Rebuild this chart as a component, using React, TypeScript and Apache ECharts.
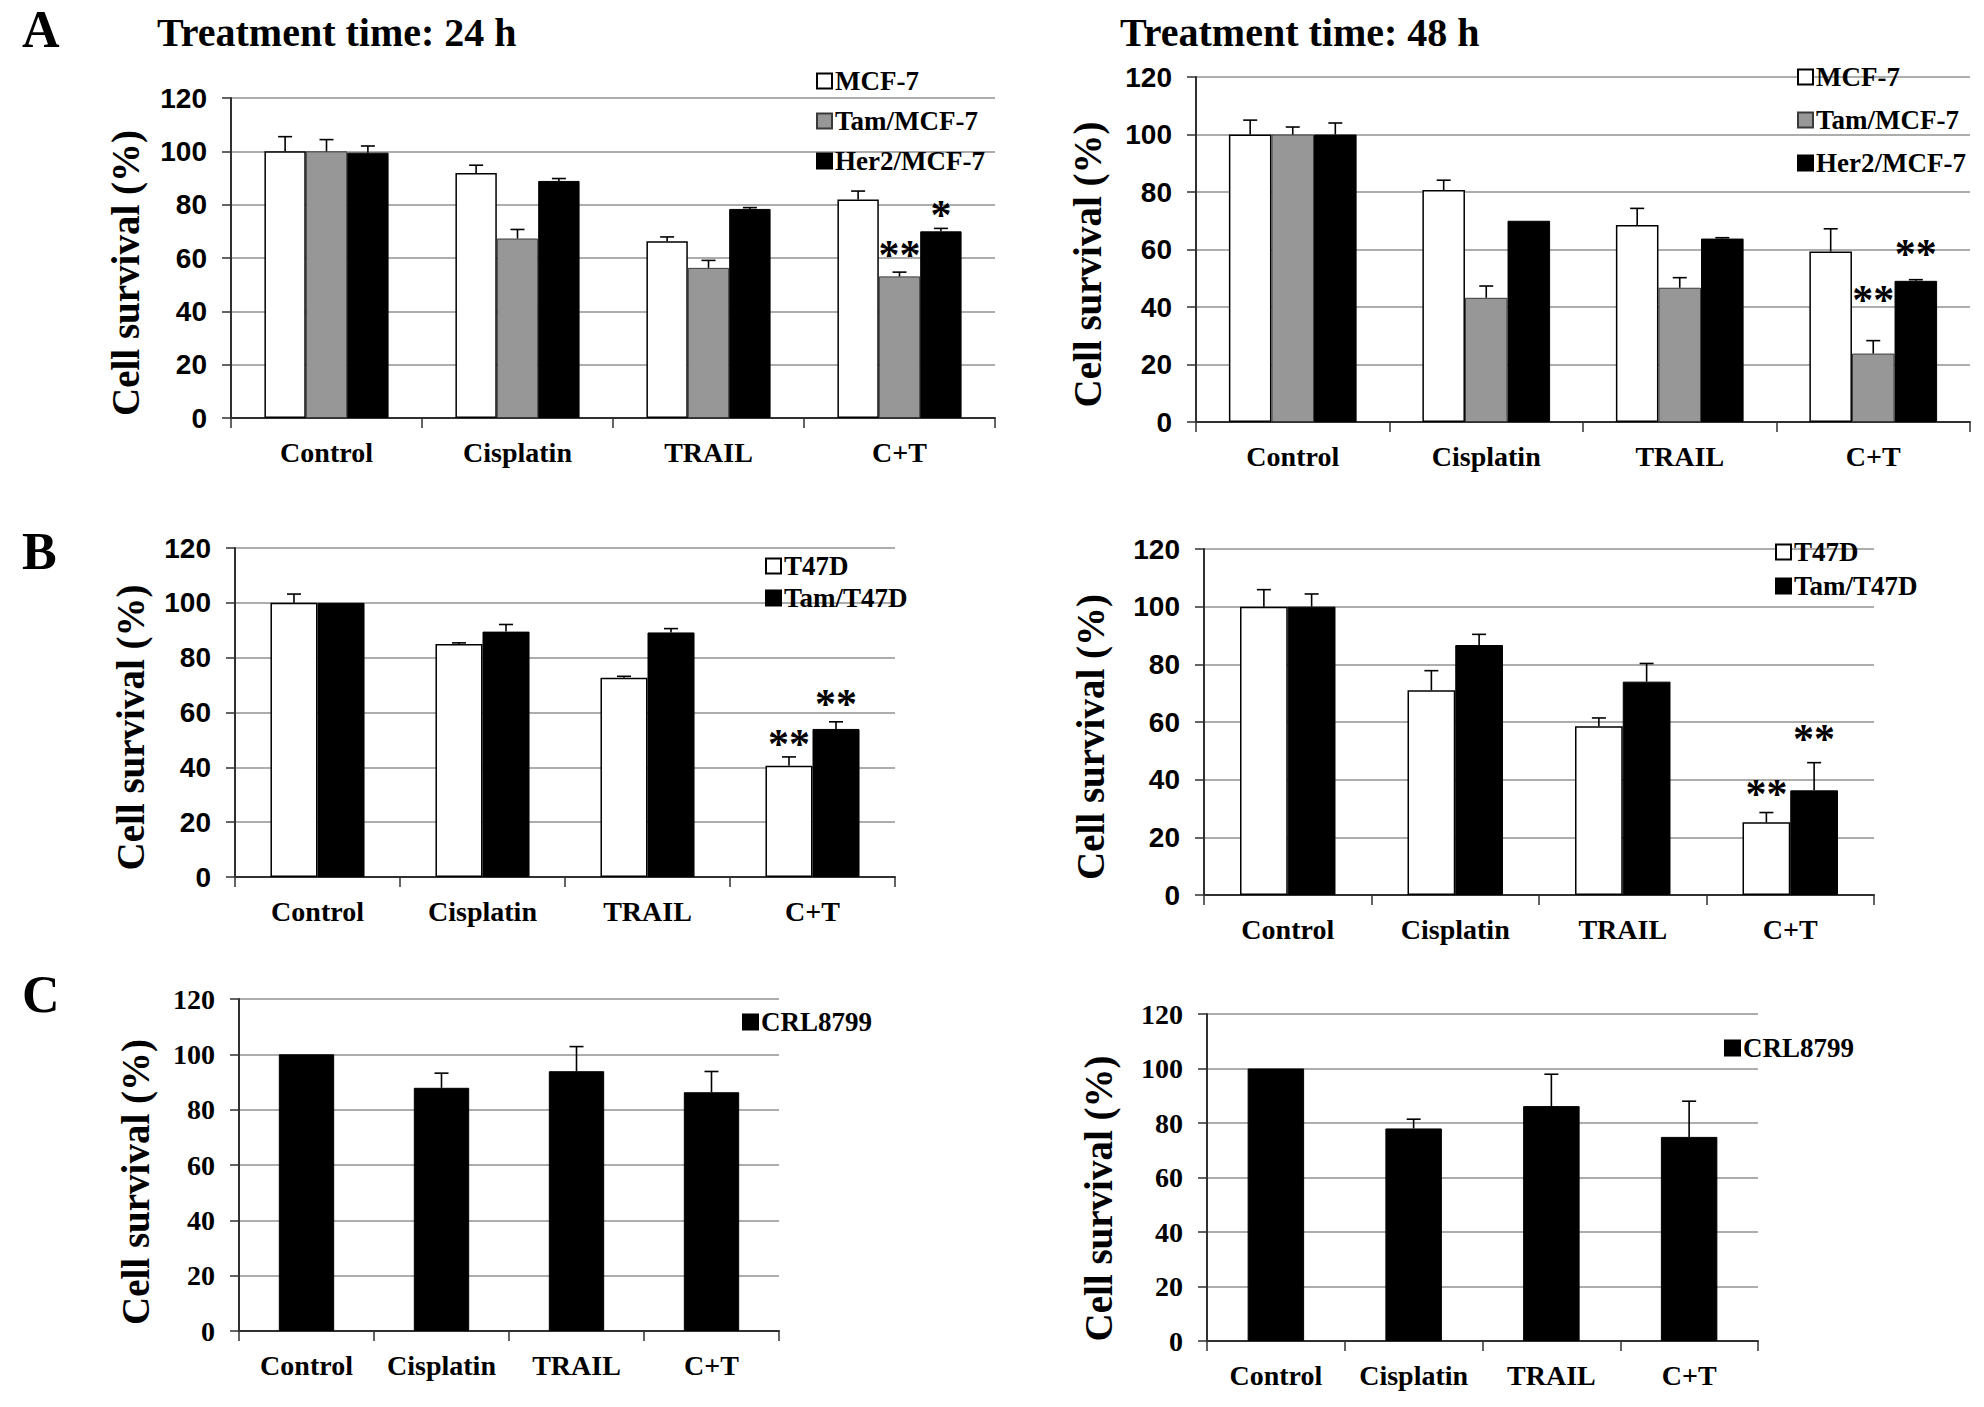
import React, { useEffect, useRef } from "react";
import * as echarts from "echarts";

const categories = ["Control", "Cisplatin", "TRAIL", "C+T"];

// ---- Panel A, 24 h
const a24Names = ["MCF-7", "Tam/MCF-7", "Her2/MCF-7"];
const a24Mcf7 = [100, 91.9, 66.3, 81.9];
const a24Mcf7Err = [5.5, 2.9, 1.6, 3.2];
const a24Tam = [100, 67.3, 56.3, 53.1];
const a24TamErr = [4.4, 3.4, 2.8, 1.6];
const a24Her2 = [99.5, 88.9, 78.4, 70];
const a24Her2Err = [2.5, 0.9, 0.5, 1.1];
const a24Marks = [
  { series: 1, cat: 3, text: "**", level: 63.8 },
  { series: 2, cat: 3, text: "*", level: 78.6 },
];

// ---- Panel A, 48 h
const a48Names = ["MCF-7", "Tam/MCF-7", "Her2/MCF-7"];
const a48Mcf7 = [100, 80.7, 68.5, 59.3];
const a48Mcf7Err = [5, 3.4, 5.8, 7.9];
const a48Tam = [100, 43.2, 46.7, 23.8];
const a48TamErr = [2.6, 4.1, 3.5, 4.5];
const a48Her2 = [100, 70, 63.8, 49.1];
const a48Her2Err = [4, 0, 0.3, 0.4];
const a48Marks = [
  { series: 1, cat: 3, text: "**", level: 44.7 },
  { series: 2, cat: 3, text: "**", level: 61 },
];

// ---- Panel B, 24 h
const b24Names = ["T47D", "Tam/T47D"];
const b24T47d = [100, 85, 72.7, 40.6];
const b24T47dErr = [3.2, 0.4, 0.5, 3.2];
const b24Tam = [100, 89.5, 89.2, 54];
const b24TamErr = [0, 2.6, 1.4, 2.6];
const b24Marks = [
  { series: 0, cat: 3, text: "**", level: 51.2 },
  { series: 1, cat: 3, text: "**", level: 65.5 },
];

// ---- Panel B, 48 h
const b48Names = ["T47D", "Tam/T47D"];
const b48T47d = [100, 71, 58.5, 25.2];
const b48T47dErr = [5.9, 6.8, 2.9, 3.4];
const b48Tam = [100, 86.7, 74, 36.3];
const b48TamErr = [4.4, 3.7, 6.3, 9.6];
const b48Marks = [
  { series: 0, cat: 3, text: "**", level: 37.6 },
  { series: 1, cat: 3, text: "**", level: 56.7 },
];

// ---- Panel C, 24 h / 48 h
const cNames = ["CRL8799"];
const c24Crl = [100, 87.9, 93.9, 86.3];
const c24CrlErr = [0, 5.3, 8.9, 7.5];
const c48Crl = [100, 78, 86.2, 74.9];
const c48CrlErr = [0, 3.4, 11.7, 13.1];

const yTicks = { min: 0, max: 120, interval: 20 };
const yName = "Cell survival (%)";

const panelTitles = ["Treatment time: 24 h", "Treatment time: 48 h"];
const panelLetters = ["A", "B", "C"];

const SERIF = '"Liberation Serif", "Times New Roman", serif';
const SANS = '"Liberation Sans", Arial, sans-serif';

// layout (not data)
const panels = [
  {
    grid: { left: 231, top: 98, width: 764, height: 320 },
    catGap: 35, nameGap: 86, nameShift: 30, tickFont: SANS,
    names: a24Names, values: [a24Mcf7, a24Tam, a24Her2], errs: [a24Mcf7Err, a24TamErr, a24Her2Err], marks: a24Marks,
    legend: { left: 816, top: 67, gap: 12 },
  },
  {
    grid: { left: 1196, top: 77, width: 774, height: 345 },
    catGap: 34, nameGap: 89, nameShift: 30, tickFont: SANS,
    names: a48Names, values: [a48Mcf7, a48Tam, a48Her2], errs: [a48Mcf7Err, a48TamErr, a48Her2Err], marks: a48Marks,
    legend: { left: 1797, top: 63, gap: 15 },
  },
  {
    grid: { left: 235, top: 548, width: 660, height: 329 },
    catGap: 43, nameGap: 85, nameShift: 30, tickFont: SANS,
    names: b24Names, values: [b24T47d, b24Tam], errs: [b24T47dErr, b24TamErr], marks: b24Marks,
    legend: { left: 765, top: 552, gap: 4 },
  },
  {
    grid: { left: 1204, top: 549, width: 670, height: 346 },
    catGap: 43, nameGap: 94, nameShift: 30, tickFont: SANS,
    names: b48Names, values: [b48T47d, b48Tam], errs: [b48T47dErr, b48TamErr], marks: b48Marks,
    legend: { left: 1775, top: 538, gap: 6 },
  },
  {
    grid: { left: 239, top: 999, width: 540, height: 332 },
    catGap: 59, nameGap: 84, nameShift: 34, tickFont: SERIF,
    names: cNames, values: [c24Crl], errs: [c24CrlErr], marks: [],
    legend: { left: 742, top: 1008, gap: 5 },
  },
  {
    grid: { left: 1207, top: 1014, width: 551, height: 327 },
    catGap: 59, nameGap: 89, nameShift: 42, tickFont: SERIF,
    names: cNames, values: [c48Crl], errs: [c48CrlErr], marks: [],
    legend: { left: 1724, top: 1034, gap: 5 },
  },
];

const barStyles: Record<string, any> = {
  "MCF-7": { color: "#ffffff", borderColor: "#000000", borderWidth: 1.5 },
  T47D: { color: "#ffffff", borderColor: "#000000", borderWidth: 1.5 },
  "Tam/MCF-7": { color: "#979797", borderColor: "#3a3a3a", borderWidth: 1 },
  "Her2/MCF-7": { color: "#000000", borderColor: "#000000", borderWidth: 1 },
  "Tam/T47D": { color: "#000000", borderColor: "#000000", borderWidth: 1 },
  CRL8799: { color: "#000000", borderColor: "#000000", borderWidth: 1 },
};

function buildOption() {
  const grid: any[] = [];
  const xAxis: any[] = [];
  const yAxis: any[] = [];
  const series: any[] = [];
  const legend: any[] = [];
  const axisColor = "#303030";

  panels.forEach((p, pi) => {
    grid.push({ ...p.grid, containLabel: false });
    xAxis.push({
      type: "category",
      gridIndex: pi,
      data: categories,
      axisLine: { show: true, lineStyle: { color: axisColor, width: 2 } },
      axisTick: { show: true, length: 10, lineStyle: { color: axisColor, width: 1.5 } },
      axisLabel: { interval: 0, margin: 20, color: "#000", fontFamily: SERIF, fontWeight: "bold", fontSize: 28 },
      splitLine: { show: false },
    });
    yAxis.push({
      type: "value",
      gridIndex: pi,
      min: yTicks.min,
      max: yTicks.max,
      interval: yTicks.interval,
      name: yName,
      nameLocation: "middle",
      nameGap: p.nameGap,
      nameTextStyle: {
        color: "#000",
        fontFamily: SERIF,
        fontWeight: "bold",
        fontSize: 39,
        padding: [0, p.nameShift, 0, 0],
      },
      axisLine: { show: true, lineStyle: { color: axisColor, width: 2 } },
      axisTick: { show: true, length: 9, lineStyle: { color: axisColor, width: 1.5 } },
      axisLabel: { margin: 24, color: "#000", fontFamily: p.tickFont, fontWeight: "bold", fontSize: 28 },
      splitLine: { show: true, lineStyle: { color: "#adadad", width: 2 } },
    });

    const n = p.names.length;
    p.names.forEach((name, si) => {
      series.push({
        type: "bar",
        name,
        xAxisIndex: pi,
        yAxisIndex: pi,
        data: p.values[si],
        barGap: "0%",
        barCategoryGap: p.catGap + "%",
        itemStyle: barStyles[name],
        emphasis: { disabled: true },
        z: 2,
      });
      const marks = p.marks.filter((m) => m.series === si);
      const catGap = p.catGap;
      series.push({
        type: "custom",
        xAxisIndex: pi,
        yAxisIndex: pi,
        silent: true,
        z: 5,
        data: p.values[si].map((v, ci) => [ci, v, p.errs[si][ci]]),
        renderItem: (params: any, api: any) => {
          const ci = api.value(0);
          const v = api.value(1);
          const e = api.value(2);
          const band = api.size([1, 0])[0];
          const bw = (band * (1 - catGap / 100)) / n;
          const base = api.coord([ci, v]);
          const cx = base[0] + (si - (n - 1) / 2) * bw;
          const yTop = base[1];
          const children: any[] = [];
          if (e > 0) {
            const yErr = api.coord([ci, v + e])[1];
            const st = { stroke: "#000", lineWidth: 1.6 };
            children.push({ type: "line", shape: { x1: cx, y1: yTop, x2: cx, y2: yErr }, style: st });
            children.push({ type: "line", shape: { x1: cx - 7, y1: yErr, x2: cx + 7, y2: yErr }, style: st });
          }
          marks
            .filter((m) => m.cat === ci)
            .forEach((m) => {
              const yy = api.coord([ci, m.level])[1];
              children.push({
                type: "text",
                x: cx,
                y: yy + 7,
                style: {
                  text: m.text,
                  fill: "#000",
                  font: `bold 42px ${SERIF}`,
                  align: "center",
                  verticalAlign: "middle",
                },
              });
            });
          return { type: "group", children };
        },
      });
    });

    legend.push({
      orient: "vertical",
      left: p.legend.left,
      top: p.legend.top,
      padding: 0,
      itemWidth: 15,
      itemHeight: 15,
      itemGap: p.legend.gap,
      icon: "rect",
      selectedMode: false,
      data: p.names,
      textStyle: { color: "#000", fontFamily: SERIF, fontWeight: "bold", fontSize: 27, lineHeight: 28, padding: [0, 0, 0, -2] },
    });
  });

  const graphic: any[] = [
    { type: "text", x: 22, y: 29, style: { text: panelLetters[0], font: `bold 52px ${SERIF}`, fill: "#000", verticalAlign: "middle" } },
    { type: "text", x: 22, y: 551, style: { text: panelLetters[1], font: `bold 52px ${SERIF}`, fill: "#000", verticalAlign: "middle" } },
    { type: "text", x: 22, y: 994, style: { text: panelLetters[2], font: `bold 52px ${SERIF}`, fill: "#000", verticalAlign: "middle" } },
    { type: "text", x: 157, y: 32, style: { text: panelTitles[0], font: `bold 40px ${SERIF}`, fill: "#000", verticalAlign: "middle" } },
    { type: "text", x: 1120, y: 32, style: { text: panelTitles[1], font: `bold 40px ${SERIF}`, fill: "#000", verticalAlign: "middle" } },
  ];

  return {
    animation: false,
    backgroundColor: "#ffffff",
    grid,
    xAxis,
    yAxis,
    series,
    legend,
    graphic,
    tooltip: { show: false },
  };
}

export default function App() {
  const ref = useRef<HTMLDivElement>(null);
  useEffect(() => {
    document.body.style.margin = "0";
    if (!ref.current) return;
    const chart = echarts.init(ref.current, undefined, { renderer: "svg" });
    chart.setOption(buildOption() as any);
    return () => chart.dispose();
  }, []);
  return <div ref={ref} style={{ width: 1984, height: 1407, background: "#fff" }} />;
}
